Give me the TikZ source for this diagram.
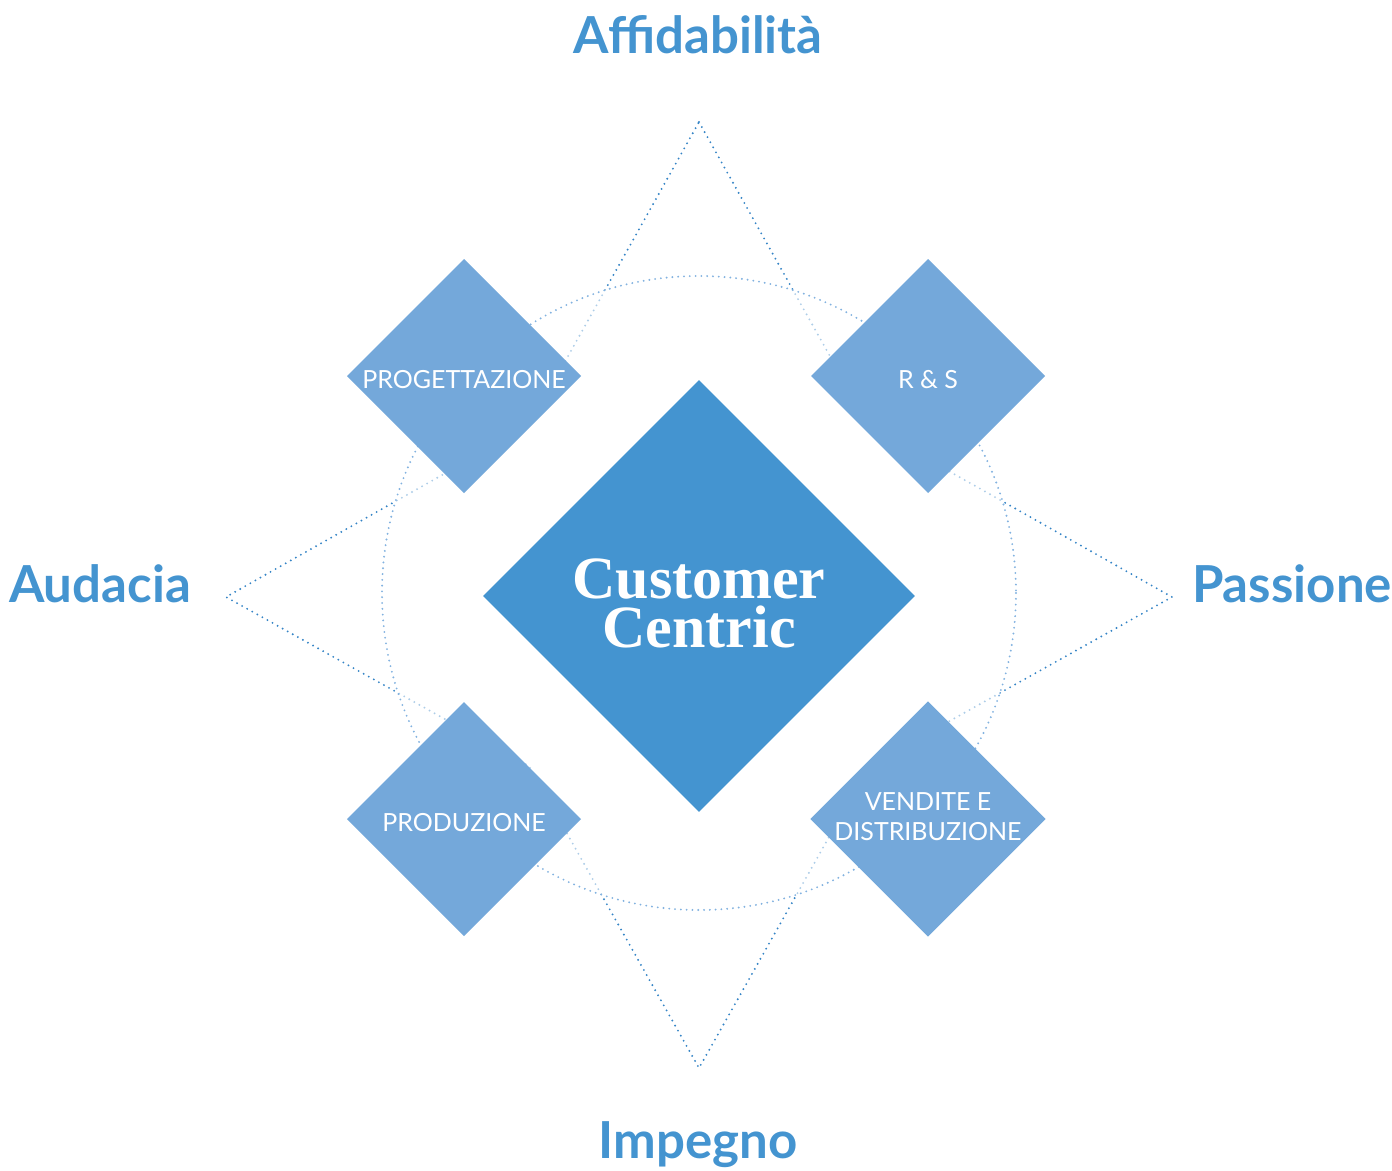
\documentclass[tikz,border=0pt]{standalone}
\usepackage{fontspec}
\usetikzlibrary{shapes.geometric}
\newfontfamily\valuefont{Lato}
\newfontfamily\corefont{Liberation Serif}
\definecolor{ccblue}{HTML}{4494D0}
\definecolor{ccpale}{HTML}{74A8DA}
\definecolor{ccline}{HTML}{3584C6}
\definecolor{ccring}{HTML}{82B2E0}
% drop a line of text without changing its box
\newcommand\sinkby[2]{\raisebox{-#1}[\height][\depth]{#2}}

\begin{document}
\begin{tikzpicture}[x = 1pt, y = -1pt, line join = round,
		dotline/.style = {line width = 2.1pt, line cap = round, dash pattern = on 0pt off 5.8pt},
		area/.style = {diamond, aspect = 1, inner sep = 0pt, outer sep = 0pt, fill = ccpale, minimum width = 234pt, minimum height = 234pt, text = white, align = center, font = \valuefont\fontsize{25}{30}\selectfont},
		value/.style = {text = ccblue, inner sep = 0pt, font = \valuefont\bfseries\fontsize{51}{51}\selectfont}]
	%		\draw[gray!50, step = 100] (0,0) grid (1392,1170);
	\useasboundingbox (0,0) rectangle (1392,1170);
	
	% star tips and hidden inner corners
	\coordinate (ctr) at (699,596);
	\coordinate (tipN) at (699,122);
	\coordinate (tipE) at (1172,597);
	\coordinate (tipS) at (699,1068);
	\coordinate (tipW) at (226,597);
	\coordinate (inNE) at (869,426);
	\coordinate (inSE) at (869,766);
	\coordinate (inSW) at (529,766);
	\coordinate (inNW) at (529,426);
	
	\draw[dotline, ccline] (tipN) -- (inNE) -- (tipE) -- (inSE) -- (tipS) -- (inSW) -- (tipW) -- (inNW) -- cycle;
	\fill[white, opacity = .6] (699,593) circle (317);
	\draw[dotline, ccring] (699,593) circle (317);
	
	\node[area] (design) at (464,376) {\sinkby{4pt}{PROGETTAZIONE}};
	\node[area] (rnd) at (928,376) {\sinkby{4pt}{R \& S}};
	\node[area] (make) at (464,819) {\sinkby{4pt}{PRODUZIONE}};
	\node[area] (sales) at (928,819) {\sinkby{-2pt}{VENDITE E}\\\sinkby{-2pt}{DISTRIBUZIONE}};
	\node[diamond, aspect = 1, inner sep = 0pt, fill = ccblue, minimum width = 432pt, minimum height = 432pt, text = white, align = center, font = \corefont\bfseries\fontsize{60}{49}\selectfont] (core) at (ctr) {\sinkby{7pt}{Customer}\\\sinkby{7pt}{Centric}};
	
	\path
	(698,53) node[value, anchor = base] (north) {Affidabilità}
	(1292,602) node[value, anchor = base] (east) {Passione}
	(698,1158) node[value, anchor = base] (south) {Impegno}
	(100,602) node[value, anchor = base] (west) {Audacia}
	;
\end{tikzpicture}
\end{document}
